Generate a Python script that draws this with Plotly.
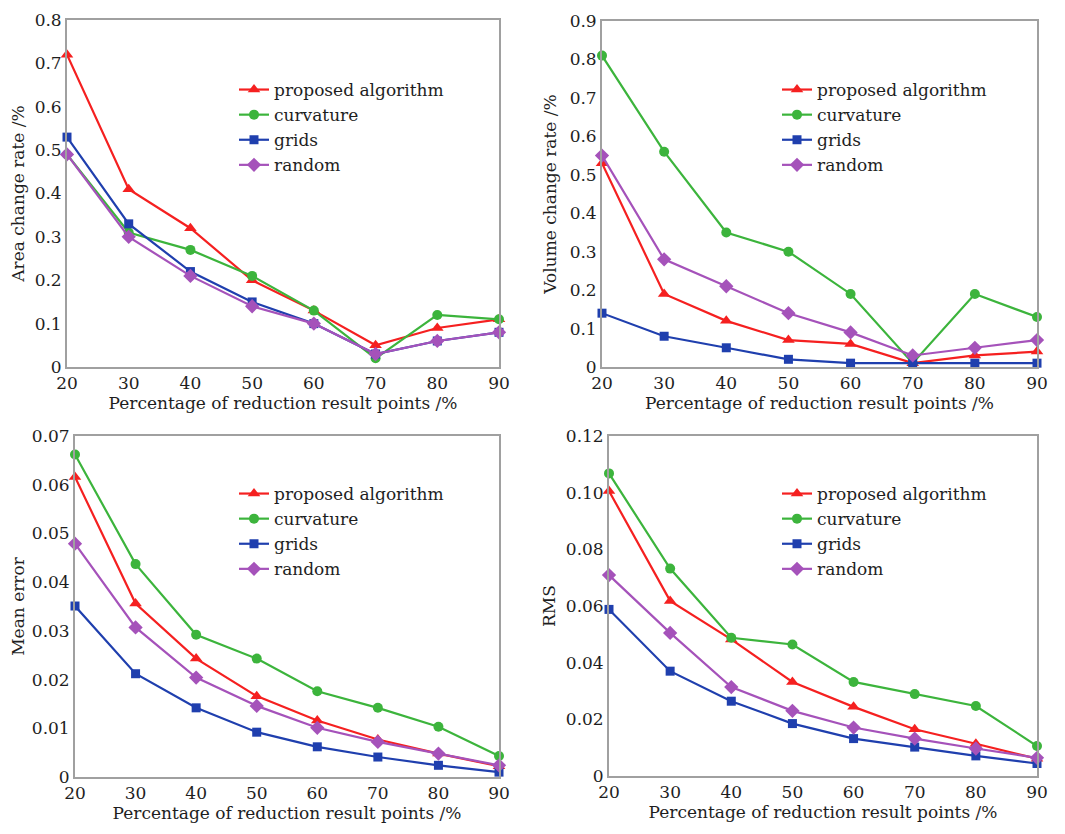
import plotly.graph_objects as go

# page body has an 8px margin; figure is laid out in page pixels minus that offset
OFF = 8
W, H = 1065 - OFF, 834 - OFF

x_pct = [20, 30, 40, 50, 60, 70, 80, 90]
series_names = ["proposed algorithm", "curvature", "grids", "random"]

area_proposed = [0.72, 0.41, 0.32, 0.20, 0.13, 0.05, 0.09, 0.11]
area_curvature = [0.49, 0.31, 0.27, 0.21, 0.13, 0.02, 0.12, 0.11]
area_grids = [0.53, 0.33, 0.22, 0.15, 0.10, 0.03, 0.06, 0.08]
area_random = [0.49, 0.30, 0.21, 0.14, 0.10, 0.03, 0.06, 0.08]

vol_proposed = [0.53, 0.19, 0.12, 0.07, 0.06, 0.01, 0.03, 0.04]
vol_curvature = [0.81, 0.56, 0.35, 0.30, 0.19, 0.01, 0.19, 0.13]
vol_grids = [0.14, 0.08, 0.05, 0.02, 0.01, 0.01, 0.01, 0.01]
vol_random = [0.55, 0.28, 0.21, 0.14, 0.09, 0.03, 0.05, 0.07]

mean_proposed = [0.0616, 0.0356, 0.0243, 0.0166, 0.0116, 0.0077, 0.0048, 0.0022]
mean_curvature = [0.0662, 0.0437, 0.0292, 0.0243, 0.0176, 0.0142, 0.0103, 0.0043]
mean_grids = [0.0351, 0.0212, 0.0142, 0.0092, 0.0062, 0.0041, 0.0024, 0.0010]
mean_random = [0.0479, 0.0307, 0.0204, 0.0146, 0.0101, 0.0072, 0.0048, 0.0024]

rms_proposed = [0.1006, 0.0618, 0.0482, 0.0332, 0.0244, 0.0165, 0.0114, 0.0061]
rms_curvature = [0.1068, 0.0732, 0.0488, 0.0464, 0.0332, 0.0289, 0.0247, 0.0106]
rms_grids = [0.0588, 0.0370, 0.0264, 0.0185, 0.0132, 0.0102, 0.0071, 0.0044]
rms_random = [0.0709, 0.0505, 0.0314, 0.0230, 0.0171, 0.0132, 0.0097, 0.0064]

x_ticks = [20, 30, 40, 50, 60, 70, 80, 90]
area_ticks = [0, 0.1, 0.2, 0.3, 0.4, 0.5, 0.6, 0.7, 0.8]
area_ticktext = ["0", "0.1", "0.2", "0.3", "0.4", "0.5", "0.6", "0.7", "0.8"]
vol_ticks = [0, 0.1, 0.2, 0.3, 0.4, 0.5, 0.6, 0.7, 0.8, 0.9]
vol_ticktext = ["0", "0.1", "0.2", "0.3", "0.4", "0.5", "0.6", "0.7", "0.8", "0.9"]
mean_ticks = [0, 0.01, 0.02, 0.03, 0.04, 0.05, 0.06, 0.07]
mean_ticktext = ["0", "0.01", "0.02", "0.03", "0.04", "0.05", "0.06", "0.07"]
rms_ticks = [0, 0.02, 0.04, 0.06, 0.08, 0.10, 0.12]
rms_ticktext = ["0", "0.02", "0.04", "0.06", "0.08", "0.10", "0.12"]

x_title = "Percentage of reduction result points /%"
y_titles = ["Area change rate /%", "Volume change rate /%", "Mean error", "RMS"]

colors = ["#f52020", "#3cb43c", "#1f3fae", "#a552ba"]
symbols = ["triangle-up", "circle", "square", "diamond"]
msizes = [11, 10, 9, 11]
FONT = "DejaVu Serif"
TXT = "#1e1e1e"

# (page-pixel plot box: left, right, top, bottom), (page-pixel legend left, top)
panels = [
    ([area_proposed, area_curvature, area_grids, area_random], area_ticks, area_ticktext, [0, 0.8],
     (67, 499, 20, 367), (234, 72), 8),
    ([vol_proposed, vol_curvature, vol_grids, vol_random], vol_ticks, vol_ticktext, [0, 0.9],
     (602, 1037, 21, 367), (777, 72), 9),
    ([mean_proposed, mean_curvature, mean_grids, mean_random], mean_ticks, mean_ticktext, [0, 0.07],
     (75, 499, 436, 777), (234, 476), 5),
    ([rms_proposed, rms_curvature, rms_grids, rms_random], rms_ticks, rms_ticktext, [0, 0.12],
     (609, 1037, 436, 776), (777, 476), 6),
]

fig = go.Figure()
layout = {}
for i, (data, yt, ytt, yr, box, leg, ystand) in enumerate(panels):
    n = i + 1
    xa = "x" if n == 1 else f"x{n}"
    ya = "y" if n == 1 else f"y{n}"
    lg = "legend" if n == 1 else f"legend{n}"
    for s in range(4):
        fig.add_trace(go.Scatter(
            x=x_pct, y=data[s], name=series_names[s], mode="lines+markers",
            line=dict(color=colors[s], width=2.2),
            marker=dict(symbol=symbols[s], size=msizes[s], color=colors[s]),
            xaxis=xa, yaxis=ya, legend=lg, cliponaxis=False,
        ))
    x0, x1, y0, y1 = [v - OFF for v in box]
    axis_common = dict(showline=True, mirror=True, linecolor="#a0a0a0", linewidth=1.8,
                       showgrid=False, zeroline=False, ticks="", automargin=False,
                       tickfont=dict(family=FONT, size=17, color=TXT))
    layout["xaxis" if n == 1 else f"xaxis{n}"] = dict(
        domain=[x0 / W, x1 / W], anchor=ya, range=[20, 90], tickvals=x_ticks,
        title=dict(text=x_title, font=dict(family=FONT, size=17, color=TXT), standoff=3),
        **axis_common)
    layout["yaxis" if n == 1 else f"yaxis{n}"] = dict(
        domain=[1 - y1 / H, 1 - y0 / H], anchor=xa, range=yr, tickvals=yt, ticktext=ytt,
        title=dict(text=y_titles[i], font=dict(family=FONT, size=17, color=TXT), standoff=ystand),
        **axis_common)
    lx, ly = leg[0] - OFF, leg[1] - OFF
    layout[lg] = dict(x=lx / W, y=1 - ly / H, xanchor="left", yanchor="top",
                      bgcolor="rgba(0,0,0,0)", borderwidth=0,
                      font=dict(family=FONT, size=17, color=TXT), tracegroupgap=0)

fig.update_layout(width=W, height=H, margin=dict(l=0, r=0, t=0, b=0),
                  paper_bgcolor="white", plot_bgcolor="white", **layout)
fig.write_html("out.html")
